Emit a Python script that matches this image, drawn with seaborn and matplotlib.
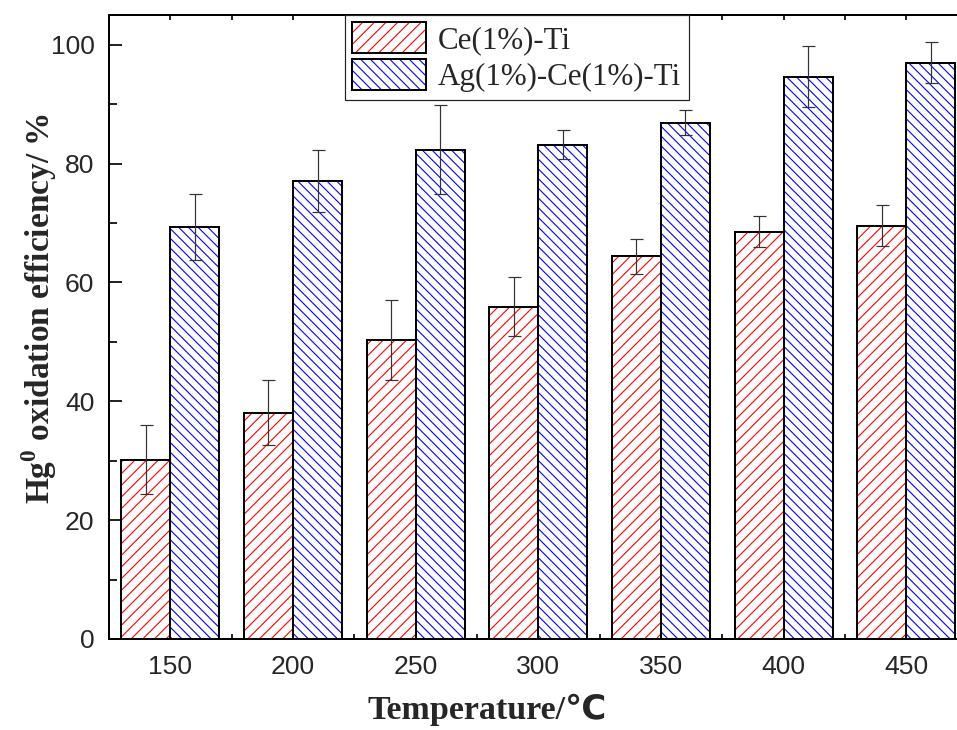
import matplotlib
matplotlib.use("Agg")
import numpy as np
import pandas as pd
import seaborn as sns
import matplotlib.pyplot as plt
from matplotlib.patches import Rectangle
from matplotlib.legend_handler import HandlerTuple
from matplotlib.ticker import MultipleLocator, FixedLocator

# ---- data -------------------------------------------------------------
temperatures = ["150", "200", "250", "300", "350", "400", "450"]
series_names = ["Ce(1%)-Ti", "Ag(1%)-Ce(1%)-Ti"]
ce_ti = [30.2, 38.1, 50.3, 55.9, 64.4, 68.5, 69.5]
ce_ti_err = [5.8, 5.5, 6.7, 4.95, 2.9, 2.6, 3.45]
ag_ce_ti = [69.3, 77.0, 82.3, 83.2, 86.9, 94.6, 97.0]
ag_ce_ti_err = [5.5, 5.2, 7.5, 2.5, 2.1, 5.15, 3.4]

hatch_colors = ["#ff0000", "#0000ff"]
hatches = ["/////", "\\" * 6]

# ---- style ------------------------------------------------------------
DPI = 175
W, H = 957, 730


def px(v):
    """Convert a length in output pixels to points."""
    return v * 72.0 / DPI


sns.set_style("ticks")
plt.rcParams["font.family"] = ["Liberation Sans", "DejaVu Sans"]
plt.rcParams["hatch.linewidth"] = px(1.1)
plt.rcParams["mathtext.fontset"] = "custom"
plt.rcParams["mathtext.rm"] = "Liberation Serif"
plt.rcParams["mathtext.bf"] = "Liberation Serif:bold"

df = pd.DataFrame({
    "Temperature": temperatures * 2,
    "Catalyst": [s for s in series_names for _ in temperatures],
    "Efficiency": ce_ti + ag_ce_ti,
})
errors = [ce_ti_err, ag_ce_ti_err]
values = [ce_ti, ag_ce_ti]

fig = plt.figure(figsize=(W / DPI, H / DPI), dpi=DPI)
ax = fig.add_axes([109 / W, 91 / H, 1 - 109 / W, 624 / H])

sns.barplot(data=df, x="Temperature", y="Efficiency", hue="Catalyst",
            order=temperatures, hue_order=series_names,
            palette=["white", "white"], saturation=1, errorbar=None,
            width=0.8, dodge=True, legend=False, ax=ax)

for container, color, hatch, vals, errs in zip(ax.containers, hatch_colors,
                                               hatches, values, errors):
    centers = []
    for bar in container:
        bar.set_hatch(hatch)
        bar.set_edgecolor(color)
        bar.set_linewidth(0)
        ax.add_patch(Rectangle(bar.get_xy(), bar.get_width(), bar.get_height(),
                               fill=False, edgecolor="black", lw=px(2.0),
                               zorder=bar.get_zorder() + 0.1))
        centers.append(bar.get_x() + bar.get_width() / 2)
    ax.errorbar(centers, vals, yerr=errs, fmt="none", ecolor="#333333",
                elinewidth=px(1.2), capsize=px(6.5), capthick=px(1.2),
                zorder=5)

# ---- axes ---------------------------------------------------------------
ax.set_ylim(0, 105)
ax.set_xlim(-0.5, 6.414)
ax.yaxis.set_major_locator(FixedLocator([0, 20, 40, 60, 80, 100]))
ax.yaxis.set_minor_locator(MultipleLocator(10))
ax.xaxis.set_minor_locator(FixedLocator(np.arange(0.5, 7, 1.0)))
for side in ["left", "bottom", "top"]:
    ax.spines[side].set_linewidth(px(2.0))
    ax.spines[side].set_color("black")
ax.spines["right"].set_visible(False)

ax.tick_params(axis="y", which="major", direction="in", length=px(13),
               width=px(2), labelsize=px(26.5), pad=px(14.5), right=False)
ax.tick_params(axis="y", which="minor", direction="in", length=px(8),
               width=px(2), right=False)
ax.tick_params(axis="x", which="both", direction="in", length=px(5),
               width=px(2), top=True, labelsize=px(26.5), pad=px(15.5))

ax.set_xlabel("Temperature/\u2103", fontsize=px(34.0), fontweight="bold",
              family=["Liberation Serif", "DejaVu Sans"])
ax.set_ylabel(r"Hg$^{\mathbf{0}}$ oxidation efficiency/ %", fontsize=px(33.4),
              fontweight="bold", family=["Liberation Serif"])
ax.xaxis.set_label_coords(0.446, -0.088)
ax.yaxis.set_label_coords(-0.0585, 0.53)

# ---- legend -------------------------------------------------------------
handles = []
for color, hatch in zip(hatch_colors, hatches):
    fill = Rectangle((0, 0), 1, 1, facecolor="white", edgecolor=color,
                     hatch=hatch, lw=0)
    outline = Rectangle((0, 0), 1, 1, fill=False, edgecolor="black",
                        lw=px(2.0))
    handles.append((fill, outline))
leg_em = 31.0
leg = ax.legend(handles, series_names,
                handler_map={tuple: HandlerTuple(ndivide=1, pad=0)},
                loc="upper left", bbox_to_anchor=(345 / W, 1 - 15 / H),
                bbox_transform=fig.transFigure, borderaxespad=0,
                prop={"family": "Liberation Serif", "size": px(leg_em)},
                frameon=True, fancybox=False, framealpha=1,
                edgecolor="#222222", borderpad=0.24,
                handlelength=74 / leg_em, handleheight=36 / leg_em,
                labelspacing=0.12, handletextpad=0.38)
leg.get_frame().set_linewidth(px(1.2))
leg.set_zorder(10)

fig.savefig("out.png", dpi=DPI)
